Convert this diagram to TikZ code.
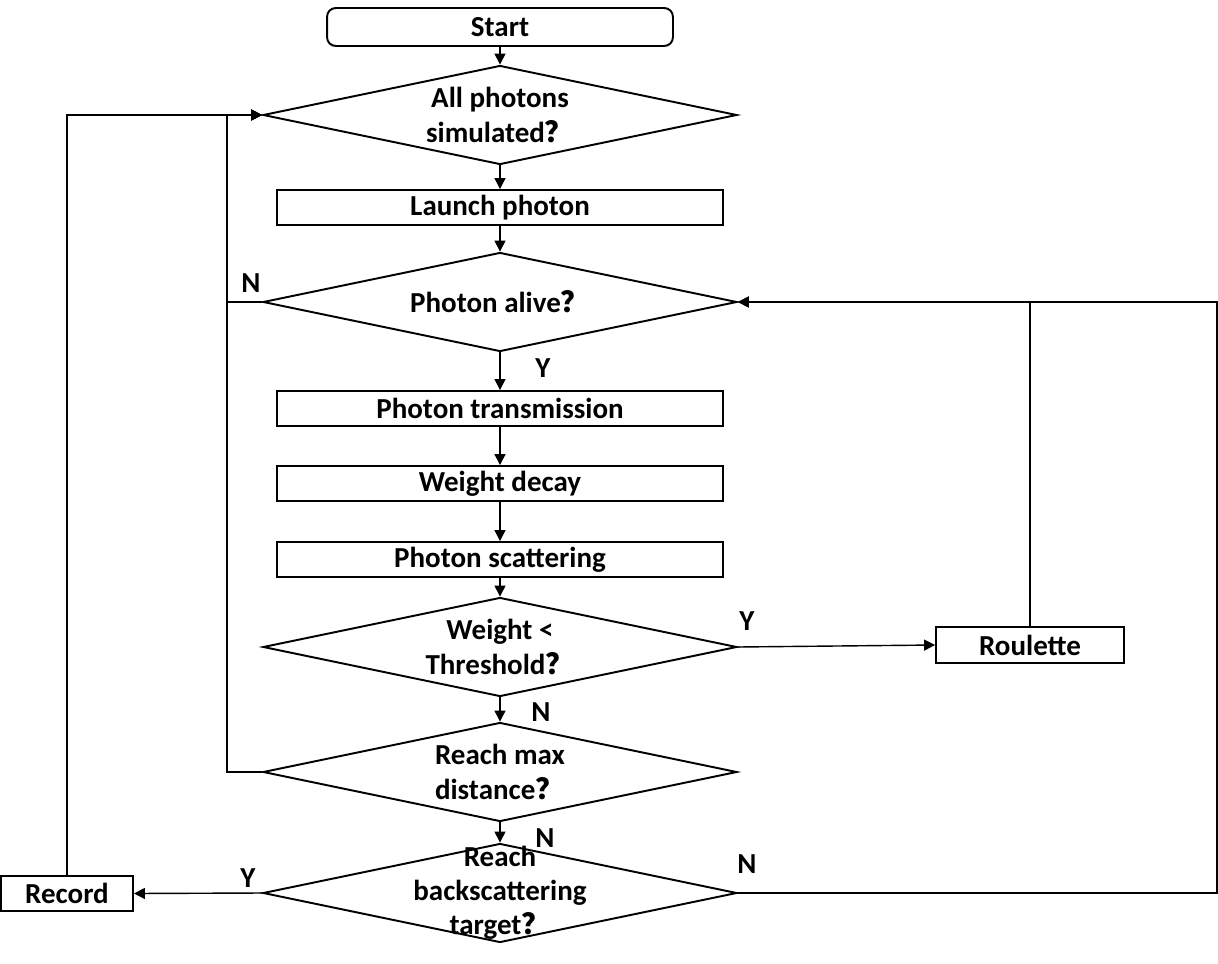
\documentclass[tikz,border=0pt]{standalone}
\usepackage{fontspec}
\setmainfont{Carlito}
\newfontfamily\cjkfont{Noto Sans CJK SC}
\usetikzlibrary{shapes.geometric,arrows.meta}
\newcommand{\qm}{{\cjkfont ？}}

\begin{document}
\begin{tikzpicture}[x=0.02cm, y=-0.02cm,
    font=\fontsize{16.5}{19.5}\selectfont\bfseries,
    every path/.style={line width=0.8pt},
    process/.style={draw, line width=1.1pt, minimum width=8.92cm, minimum height=0.7cm, inner sep=0pt},
    decision/.style={draw, diamond, line width=1.1pt, minimum width=9.48cm, minimum height=1.98cm, inner sep=0pt},
    flow/.style={-{Triangle[length=2.2mm,width=2.2mm]}},
    yn/.style={inner sep=0pt}]
    \useasboundingbox (0,0) rectangle (1218,964);

    \node [draw, rounded corners=5pt, line width=1.1pt, minimum width=6.92cm, minimum height=0.76cm] (start) at (500,27) {Start};
    \node [decision, label={[align=center]center:All photons\\simulated\qm}] (allsim) at (500,115) {};
    \node [process] (launch) at (500,207.5) {Launch photon};
    \node [decision, label={center:Photon alive\qm}] (alive) at (500,302) {};
    \node [process] (trans) at (500,408.5) {Photon transmission};
    \node [process] (decay) at (500,483.5) {Weight decay};
    \node [process] (scatter) at (500,559.5) {Photon scattering};
    \node [decision, label={[align=center]center:Weight <\\Threshold\qm}] (thresh) at (500,647) {};
    \node [process, minimum width=3.76cm, minimum height=0.72cm] (roulette) at (1030,645) {Roulette};
    \node [decision, label={[align=left]center:Reach max\\distance\qm}] (maxdist) at (500,772) {};
    \node [decision, label={[align=center]center:Reach\\backscattering\\target\qm}] (target) at (500,893) {};
    \node [process, minimum width=2.64cm] (record) at (67,893.5) {Record};

    \node [yn] (nalive) at (251,283) {N};
    \node [yn] (yalive) at (543,368) {Y};
    \node [yn] (ythresh) at (747,621) {Y};
    \node [yn] (nthresh) at (541,712) {N};
    \node [yn] (nmax) at (545,838) {N};
    \node [yn] (ytarget) at (248,878) {Y};
    \node [yn] (ntarget) at (747,864) {N};

    \draw [flow] (start) -- (allsim);
    \draw [flow] (allsim) -- (launch);
    \draw [flow] (launch) -- (alive);
    \draw [flow] (alive) -- (trans);
    \draw [flow] (trans) -- (decay);
    \draw [flow] (decay) -- (scatter);
    \draw [flow] (scatter) -- (thresh);
    \draw [flow] (thresh) -- (maxdist);
    \draw [flow] (maxdist) -- (target);
    \draw [flow] (thresh.east) -- (roulette.west);
    \draw [flow] (target.west) -- (record.east);

    \draw [flow] (record.north) |- (allsim.west);
    \draw [flow] (alive.west) -- ++(-35,0) |- (allsim.west);
    \draw [flow] (maxdist.west) -- ++(-35,0) |- (allsim.west);
    \draw [flow] (roulette.north) |- (alive.east);
    \draw [flow] (target.east) -- ++(479,0) |- (alive.east);

\end{tikzpicture}
\end{document}
